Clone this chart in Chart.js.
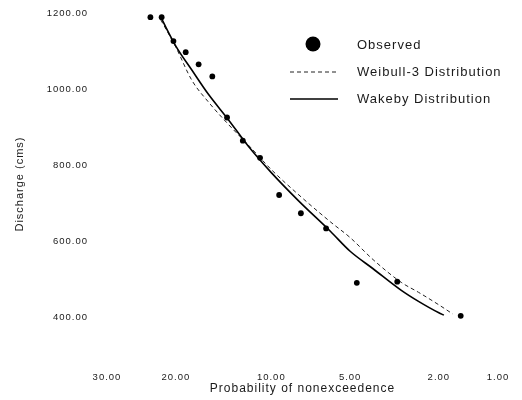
<!DOCTYPE html>
<html>
<head>
<meta charset="utf-8">
<script src="https://cdn.jsdelivr.net/npm/chart.js@4/dist/chart.umd.min.js"></script>
<style>
html,body{margin:0;padding:0;background:#fff;}
#wrap{width:522px;height:400px;position:relative;}
</style>
</head>
<body>
<div id="wrap"><canvas id="c" width="522" height="400"></canvas></div>
<script>
// ---- data (probability of nonexceedence in %, discharge in cms) ----
const observedProb = [23.44, 21.88, 20.31, 18.75, 17.19, 15.63, 14.06, 12.5, 10.94, 9.38, 7.81, 6.25, 4.69, 3.13, 1.56];
const observedQ    = [1189, 1189, 1126, 1097, 1065, 1033, 925, 864, 819, 721, 673, 633, 490, 493, 403];

const weibullProb = [22, 20, 18, 16, 14, 12, 10, 8, 6, 5, 4, 3, 2.5, 2, 1.71];
const weibullQ    = [1182, 1110, 1023, 964, 909, 853, 788, 723, 650, 609, 551, 491, 465, 432, 408];

const wakebyProb = [22, 20, 18, 16, 14, 12, 10, 8, 6, 5, 4, 3, 2.5, 2, 1.89];
const wakebyQ    = [1189, 1113, 1050, 984, 922, 850, 780, 707, 625, 573, 527, 470, 441, 411, 405];

const xTickProbs = [30, 20, 10, 5, 2, 1];
const yTickValues = [400, 600, 800, 1000, 1200];

// normal probability scale: standard normal quantile of nonexceedence
function invNorm(p){
  const a=[-3.969683028665376e+01,2.209460984245205e+02,-2.759285104469687e+02,1.383577518672690e+02,-3.066479806614716e+01,2.506628277459239e+00];
  const b=[-5.447609879822406e+01,1.615858368580409e+02,-1.556989798598866e+02,6.680131188771972e+01,-1.328068155288572e+01];
  const c=[-7.784894002430293e-03,-3.223964580411365e-01,-2.400758277161838e+00,-2.549732539343734e+00,4.374664141464968e+00,2.938163982698783e+00];
  const d=[7.784695709041462e-03,3.224671290700398e-01,2.445134137142996e+00,3.754408661907416e+00];
  const pl=0.02425, ph=1-pl;
  let q,r;
  if(p<pl){q=Math.sqrt(-2*Math.log(p));return (((((c[0]*q+c[1])*q+c[2])*q+c[3])*q+c[4])*q+c[5])/((((d[0]*q+d[1])*q+d[2])*q+d[3])*q+1);}
  if(p<=ph){q=p-0.5;r=q*q;return (((((a[0]*r+a[1])*r+a[2])*r+a[3])*r+a[4])*r+a[5])*q/(((((b[0]*r+b[1])*r+b[2])*r+b[3])*r+b[4])*r+1);}
  q=Math.sqrt(-2*Math.log(1-p));return -(((((c[0]*q+c[1])*q+c[2])*q+c[3])*q+c[4])*q+c[5])/((((d[0]*q+d[1])*q+d[2])*q+d[3])*q+1);
}
const toX = p => invNorm(1 - p/100);
const pts = (ps, qs) => ps.map((p,i)=>({x: toX(p), y: qs[i]}));

const FONT = "'Liberation Sans', Arial, sans-serif";
const INK = '#1a1a1a';

const spacingPlugin = {
  id: 'spacing',
  beforeUpdate(chart){ chart.ctx.letterSpacing = '1px'; },
  beforeDraw(chart){ chart.ctx.letterSpacing = '1px'; }
};

const legendPlugin = {
  id: 'customLegend',
  afterDraw(chart){
    const ctx = chart.ctx;
    const ds = chart.data.datasets;
    ctx.save();
    ctx.letterSpacing = '1px';
    ctx.font = "13px " + FONT;
    ctx.textBaseline = 'middle';
    ctx.textAlign = 'left';
    // Observed
    ctx.beginPath(); ctx.arc(313, 44, 7.5, 0, Math.PI*2); ctx.fillStyle = '#000'; ctx.fill();
    ctx.fillStyle = INK; ctx.fillText(ds[0].label, 357, 45);
    // Weibull-3
    ctx.strokeStyle = '#222'; ctx.lineWidth = 1; ctx.setLineDash([4,3]);
    ctx.beginPath(); ctx.moveTo(290, 72); ctx.lineTo(336, 72); ctx.stroke();
    ctx.setLineDash([]);
    ctx.fillText(ds[1].label, 357, 72);
    // Wakeby
    ctx.strokeStyle = '#000'; ctx.lineWidth = 1.6;
    ctx.beginPath(); ctx.moveTo(290, 99); ctx.lineTo(338, 99); ctx.stroke();
    ctx.fillText(ds[2].label, 357, 99);
    ctx.restore();
  }
};

new Chart(document.getElementById('c'), {
  type: 'scatter',
  data: {
    datasets: [
      { label: 'Observed', data: pts(observedProb, observedQ), showLine: false,
        pointRadius: 2.9, pointBackgroundColor: '#000', pointBorderColor: '#000', pointBorderWidth: 0, order: 0 },
      { label: 'Weibull-3 Distribution', data: pts(weibullProb, weibullQ), showLine: true,
        borderColor: '#222', borderWidth: 1, borderDash: [4,3], pointRadius: 0, cubicInterpolationMode: 'monotone', order: 2 },
      { label: 'Wakeby Distribution', data: pts(wakebyProb, wakebyQ), showLine: true,
        borderColor: '#000', borderWidth: 1.6, pointRadius: 0, cubicInterpolationMode: 'monotone', order: 1 }
    ]
  },
  options: {
    responsive: false,
    animation: false,
    devicePixelRatio: 1,
    layout: { padding: { top: 13, right: 24, left: 0, bottom: 0 } },
    plugins: { legend: { display: false }, tooltip: { enabled: false } },
    scales: {
      x: {
        type: 'linear',
        min: toX(30), max: toX(1),
        grid: { display: false, drawTicks: true, tickLength: 15 },
        border: { display: false },
        afterBuildTicks(s){ s.ticks = xTickProbs.map(p => ({ value: toX(p) })); },
        afterFit(s){ s.height = 45; },
        ticks: {
          padding: 2, color: INK, font: { family: FONT, size: 9.5 }, maxRotation: 0, autoSkip: false,
          callback(v, i){ return xTickProbs[i].toFixed(2); }
        },
        title: { display: true, text: 'Probability of nonexceedence', color: INK,
          font: { family: FONT, size: 12 }, padding: { top: 0, bottom: 4 } }
      },
      y: {
        type: 'linear',
        min: 300, max: 1200,
        grid: { display: false, drawTicks: true, tickLength: 17 },
        border: { display: false },
        afterBuildTicks(s){ s.ticks = yTickValues.map(v => ({ value: v })); },
        afterFit(s){ s.width = 107; },
        ticks: {
          padding: 2, color: INK, font: { family: FONT, size: 9.5 },
          callback(v){ return Number(v).toFixed(2); }
        },
        title: { display: true, text: 'Discharge (cms)', color: INK,
          font: { family: FONT, size: 11 }, padding: { top: 13, bottom: 0 } }
      }
    }
  },
  plugins: [spacingPlugin, legendPlugin]
});
</script>
</body>
</html>
